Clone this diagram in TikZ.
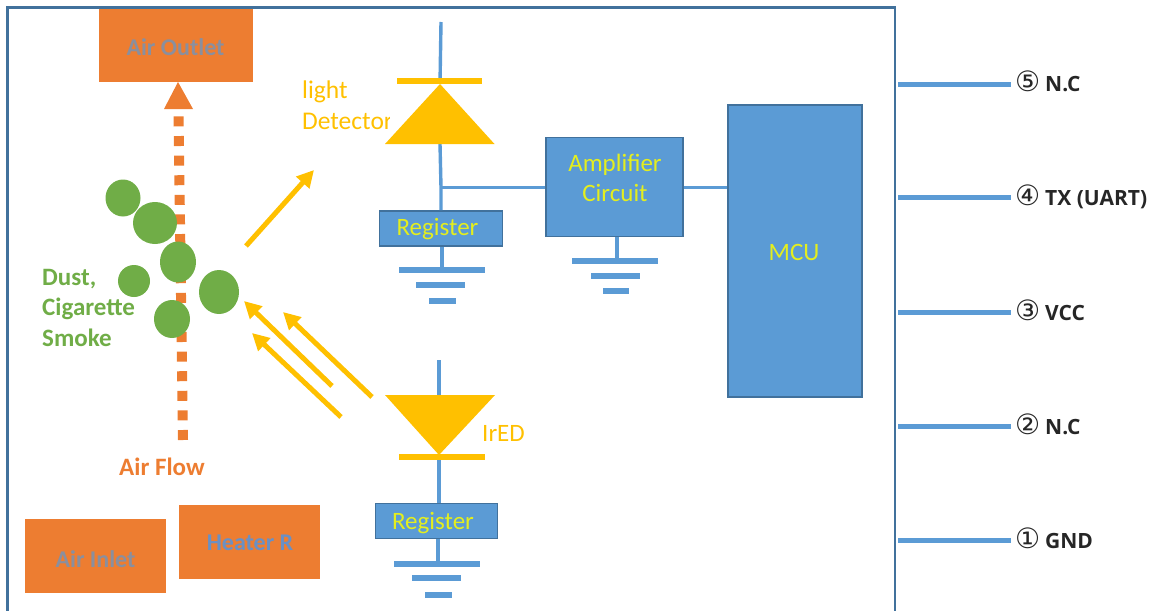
\documentclass[tikz,border=0pt]{standalone}
\usepackage{fontspec}
\setmainfont{Carlito}
\newfontfamily\pinfont{Open Sans}
\newfontfamily\circfont{DejaVu Sans}
\usetikzlibrary{arrows.meta}
\definecolor{wireblue}{HTML}{5B9BD5}
\definecolor{edgeblue}{HTML}{41719C}
\definecolor{airorange}{HTML}{ED7D31}
\definecolor{ambertone}{HTML}{FFC000}
\definecolor{dustgreen}{HTML}{70AD47}
\definecolor{labelyellow}{HTML}{E4EE1E}
\definecolor{greytext}{HTML}{8A8F9E}
\definecolor{heatertext}{HTML}{6A90C4}
\tikzset{
  orangebox/.style={fill=airorange,draw=none,inner sep=0pt},
  orangelabel/.style={inner sep=0pt,text=greytext,font=\fontsize{24}{24}\selectfont\bfseries},
  bluebox/.style={fill=wireblue,draw=edgeblue,line width=1.8pt,inner sep=0pt},
  bluelabel/.style={inner sep=0pt,text=labelyellow,font=\fontsize{25}{30}\selectfont,align=center},
  wire/.style={draw=wireblue,line width=3.4pt},
  gndbar/.style={draw=wireblue,line width=6pt},
  pinwire/.style={draw=wireblue,line width=5pt},
  pinlabel/.style={anchor=base west,inner sep=0pt,text=black!85,font=\fontsize{21}{21}\selectfont\pinfont\bfseries},
  beam/.style={draw=ambertone,line width=5pt,-{Triangle[length=17pt,width=17pt]}},
  diode/.style={fill=ambertone,draw=none},
  diodebar/.style={draw=ambertone,line width=6pt},
  dustblob/.style={fill=dustgreen,draw=none},
  greentext/.style={anchor=base west,inner sep=0pt,text=dustgreen,font=\fontsize{25}{25}\selectfont\bfseries},
  ambertext/.style={anchor=base west,inner sep=0pt,text=ambertone,font=\fontsize{25}{25}\selectfont},
}
\newcommand{\pincirc}[1]{\makebox[30pt][l]{\circfont\fontsize{28}{28}\selectfont\mdseries #1}}
\begin{document}
\begin{tikzpicture}[x=1pt,y=-1pt]
\useasboundingbox (0,0) rectangle (1155,610);
% housing (open at the bottom)
\draw[edgeblue,line width=2.2pt] (7.5,612) -- (7.5,7.5) -- (895,7.5) -- (895,612);

% air flow
\coordinate (flowstart) at (183,440);
\coordinate (flowend) at (178.5,114);
\draw[airorange,line width=10pt,dash pattern=on 10pt off 9.6pt] (flowstart) -- (flowend);
\fill[airorange] (178,82) -- (193,109) -- (164,109) -- cycle;

% boxes
\node[orangebox,minimum width=154pt,minimum height=72pt] (outlet) at (176,45.5) {};
\node[orangelabel] (outlettext) at (175.5,47) {Air Outlet};
\node[orangebox,minimum width=141pt,minimum height=74pt] (inlet) at (95,556) {};
\node[orangelabel] (inlettext) at (95.5,559) {Air Inlet};
\node[orangebox,minimum width=141pt,minimum height=74pt] (heater) at (249.5,542) {};
\node[orangelabel,text=heatertext] (heatertext) at (250,543) {Heater R};

% dust
\fill[dustblob] (123,198) ellipse [x radius=17.5,y radius=18.5];
\fill[dustblob] (155,223) ellipse [x radius=22,y radius=21];
\fill[dustblob] (178,262) ellipse [x radius=18,y radius=20.5];
\fill[dustblob] (134,281) ellipse [x radius=16,y radius=16];
\fill[dustblob] (219,292) ellipse [x radius=20,y radius=22];
\fill[dustblob] (172,319) ellipse [x radius=18,y radius=19];
\node[greentext] (dust1) at (42,285) {Dust,};
\node[greentext] (dust2) at (42,315.5) {Cigarette};
\node[greentext] (dust3) at (42,346) {Smoke};
\node[greentext,text=airorange] (flowlabel) at (119,475) {Air Flow};

% beams
\coordinate (b1s) at (246,246); \coordinate (b1e) at (314,170);
\coordinate (b2s) at (372,397); \coordinate (b2e) at (283,312);
\coordinate (b3s) at (332,386); \coordinate (b3e) at (244,301);
\coordinate (b4s) at (341,417); \coordinate (b4e) at (252,333);
\draw[beam] (b1s) -- (b1e);
\draw[beam] (b2s) -- (b2e);
\draw[beam] (b3s) -- (b3e);
\draw[beam] (b4s) -- (b4e);

% light detector
\node[ambertext,font=\fontsize{25.5}{25.5}\selectfont] (lightlabel) at (302,98.5) {light};
\begin{scope}
\clip (295,100) rectangle (389,140);
\node[ambertext,font=\fontsize{25.5}{25.5}\selectfont] (detlabel) at (302,129.5) {Detector};
\end{scope}
\coordinate (dettop) at (441,22);
\coordinate (detapex) at (440,84);
\coordinate (detbase) at (440,144);
\coordinate (junction) at (441,187.5);
\node[bluebox,minimum width=123pt,minimum height=35pt] (reg1) at (441,228.5) {};
\node[bluelabel] (reg1text) at (437.5,229) {Register};
\node[bluebox,minimum width=137pt,minimum height=99pt] (amp) at (614.5,187) {};
\node[bluelabel] (amptext) at (615,177.5) {Amplifier\\Circuit};
\node[bluebox,minimum width=134pt,minimum height=292pt] (mcu) at (795,251) {};
\node[bluelabel] (mcutext) at (794,252.5) {MCU};
\draw[wire] (dettop) -- (detapex);
\draw[wire] (detbase) -- (junction) -- (reg1.north -| junction);
\draw[wire] (junction) -- (amp.west |- junction);
\draw[wire] (amp.east |- junction) -- (mcu.west |- junction);
\fill[diode] (detapex) -- (494.5,144) -- (385,144) -- cycle;
\draw[diodebar] (397,81) -- (482,81);

% ground of register 1
\coordinate (g1) at (442,270);
\draw[wire] (reg1.south -| g1) -- (g1);
\draw[gndbar] (399,270) -- (484.5,270);
\draw[gndbar] (416,285) -- (465,285);
\draw[gndbar] (429,300.5) -- (455.5,300.5);

% ground of amplifier
\coordinate (g2) at (617,261);
\draw[wire] (amp.south -| g2) -- (g2);
\draw[gndbar] (572,261) -- (658,261);
\draw[gndbar] (591,275.5) -- (639.5,275.5);
\draw[gndbar] (603,290.5) -- (629,290.5);

% IrED
\coordinate (irtop) at (439,360);
\coordinate (irbase) at (439,395);
\coordinate (irapex) at (439,455);
\node[bluebox,minimum width=122pt,minimum height=35pt] (reg2) at (436.5,521) {};
\node[bluelabel] (reg2text) at (433,523) {Register};
\draw[wire] (irtop) -- (irbase);
\draw[wire] (irapex) -- (reg2.north -| irapex);
\fill[diode] (385,395) -- (495,395) -- (irapex) -- cycle;
\draw[diodebar] (399,457) -- (484.5,457);
\node[ambertext] (irlabel) at (482,441.5) {IrED};

% ground of register 2
\coordinate (g3) at (438,563.5);
\draw[wire] (reg2.south -| g3) -- (g3);
\draw[gndbar] (394,563.5) -- (480,563.5);
\draw[gndbar] (412,578) -- (460.5,578);
\draw[gndbar] (425,594.5) -- (451.5,594.5);

% pins
\node[pinlabel] (p5) at (1015,91) {\pincirc{⑤}N.C};
\node[pinlabel] (p4) at (1015,205) {\pincirc{④}TX (UART)};
\node[pinlabel] (p3) at (1015,320) {\pincirc{③}VCC};
\node[pinlabel] (p2) at (1015,434) {\pincirc{②}N.C};
\node[pinlabel] (p1) at (1015,548) {\pincirc{①}GND};
\foreach \n/\y in {5/84,4/197.5,3/312,2/426,1/540}{
  \coordinate (s\n) at (898,\y);
  \draw[pinwire] (s\n) -- (1011,\y);
}
\end{tikzpicture}
\end{document}
